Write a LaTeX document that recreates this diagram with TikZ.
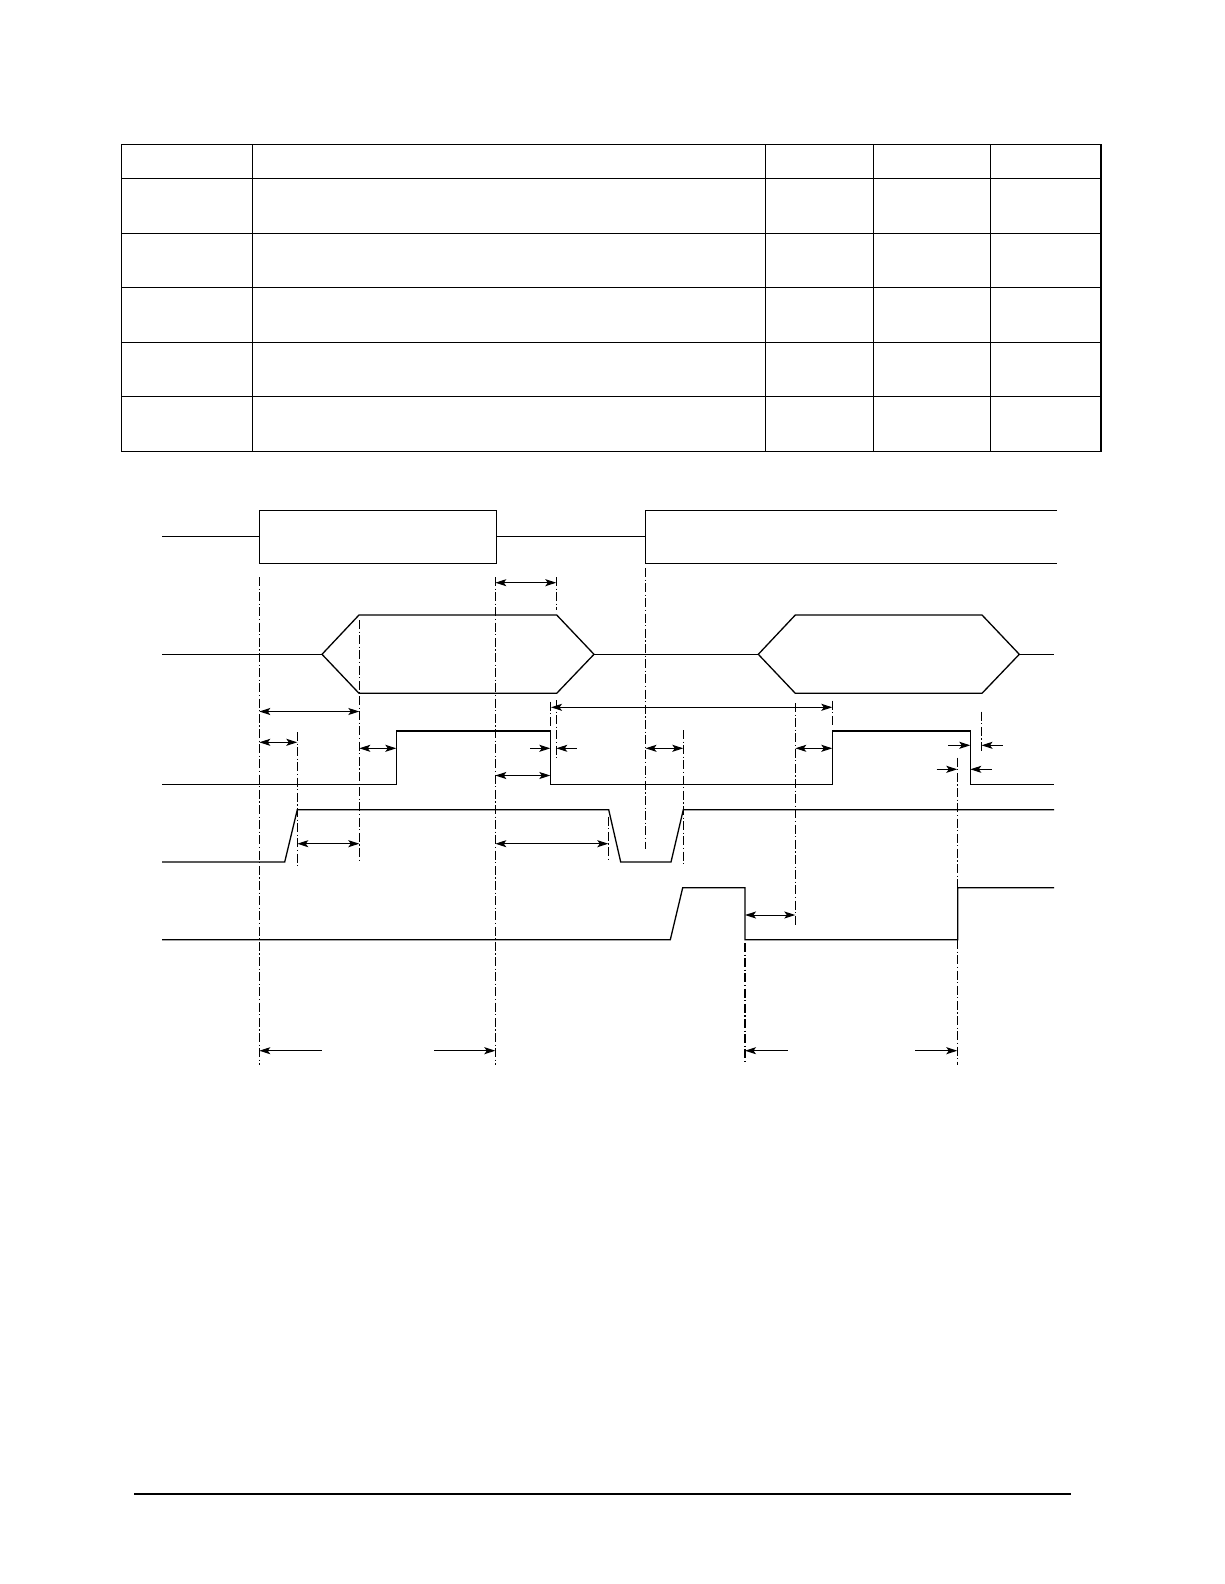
\documentclass[tikz,border=0pt]{standalone}
\usetikzlibrary{arrows.meta}
\begin{document}
\begin{tikzpicture}[x=1pt,y=-1pt,
  tbl/.style={line width=1.6pt},
  sig/.style={line width=1.3pt, line join=miter},
  ddl/.style={line width=1.1pt, dash pattern=on 9pt off 2.5pt on 1.2pt off 2.5pt},
  dimline/.style={line width=1pt},
  tip/.tip={Stealth[length=11pt,width=7pt,inset=2.5pt]},
  dbl/.style={dimline,tip-tip},
  one/.style={dimline,-tip}]
\useasboundingbox (0,0) rectangle (1224,1584);
% ---------- table ----------
\draw[tbl] (121.3,144.3) rectangle (1101,451.3);
\foreach \yy in {178.3,233.3,287.3,342.3,396.3} \draw[tbl] (121.3,\yy) -- (1101,\yy);
\foreach \xx in {252.3,765.3,873.3,990.3} \draw[tbl] (\xx,144.3) -- (\xx,451.3);
% ---------- footer rule ----------
\draw[line width=2.6pt] (134,1494) -- (1071,1494);
% ---------- row 1 ----------
\draw[sig] (162,536.3) -- (259.3,536.3);
\draw[sig] (259.3,510.3) rectangle (496.3,563.3);
\draw[sig] (496.3,536.3) -- (645.3,536.3);
\draw[sig] (1057,510.3) -- (645.3,510.3) -- (645.3,563.3) -- (1057,563.3);
% ---------- row 2 (bus) ----------
\draw[sig] (162,654.3) -- (322,654.3);
\draw[sig] (322,654.3) -- (359,615) -- (556.7,615) -- (594,654.3) -- (556.7,693.3) -- (359,693.3) -- cycle;
\draw[sig] (594,654.3) -- (758.3,654.3);
\draw[sig] (758.3,654.3) -- (795.3,615) -- (982,615) -- (1019.3,654.3) -- (982,693.3) -- (795.3,693.3) -- cycle;
\draw[sig] (1019.3,654.3) -- (1054,654.3);
% ---------- row 3 ----------
\draw[sig] (162,784.3) -- (396.3,784.3) -- (396.3,731) -- (550.3,731) -- (550.3,784.3)
  -- (832.3,784.3) -- (832.3,731) -- (970.3,731) -- (970.3,784.3) -- (1054,784.3);
% ---------- row 4 ----------
\draw[sig] (162,862) -- (284.7,862) -- (297.3,809.7) -- (608.7,809.7) -- (620.7,862)
  -- (671,862) -- (683.3,809.7) -- (1054,809.7);
% ---------- row 5 ----------
\draw[sig] (162,939.7) -- (670.3,939.7) -- (682.7,887.7) -- (745,887.7) -- (745,939.7)
  -- (957.7,939.7) -- (957.7,887.7) -- (1054,887.7);
% ---------- dash-dot guides ----------
\draw[ddl] (259.3,577) -- (259.3,1065);
\draw[ddl] (297.3,732) -- (297.3,867);
\draw[ddl] (359.3,620) -- (359.3,861);
\draw[ddl] (495.3,577) -- (495.3,1065);
\draw[ddl] (556.3,577) -- (556.3,610);
\draw[ddl] (556.3,700) -- (556.3,760);
\draw[ddl] (550.3,701.7) -- (550.3,726);
\draw[ddl] (608.3,816.7) -- (608.3,862);
\draw[ddl] (645.5,568) -- (645.5,849.3);
\draw[ddl] (683.3,730) -- (683.3,866);
\draw[ddl] (795.3,703) -- (795.3,926.7);
\draw[ddl] (832.3,700.7) -- (832.3,726.7);
\draw[ddl] (981.5,711.7) -- (981.5,753.3);
\draw[ddl] (957.3,757.7) -- (957.3,1065);
\draw[ddl] (745,943) -- (745,1064);
% ---------- dimension arrows ----------
\draw[dbl] (495.3,582.7) -- (556.3,582.7);
\draw[dbl] (259.3,711.5) -- (359.3,711.5);
\draw[dbl] (259.3,742.3) -- (297.3,742.3);
\draw[dbl] (359.3,748.3) -- (396.3,748.3);
\draw[dbl] (551,707.3) -- (832.3,707.3);
\draw[one] (530,748.3) -- (550.3,748.3);
\draw[one] (576.7,748.3) -- (556.3,748.3);
\draw[dbl] (495.3,775.5) -- (550.3,775.5);
\draw[dbl] (645.5,748.3) -- (683.3,748.3);
\draw[dbl] (795.3,748.3) -- (832.3,748.3);
\draw[one] (948.3,745.3) -- (970.3,745.3);
\draw[one] (1002.7,745.3) -- (981.5,745.3);
\draw[one] (936.7,769.3) -- (957.3,769.3);
\draw[one] (991.7,769.3) -- (970.3,769.3);
\draw[dbl] (297.3,843.7) -- (359.3,843.7);
\draw[dbl] (495.3,843.7) -- (608.3,843.7);
\draw[dbl] (745,915) -- (795.3,915);
\draw[one] (321.7,1050.7) -- (259.3,1050.7);
\draw[one] (434,1050.7) -- (495.3,1050.7);
\draw[one] (787.7,1050.7) -- (745,1050.7);
\draw[one] (915,1050.7) -- (957.3,1050.7);
\end{tikzpicture}
\end{document}
